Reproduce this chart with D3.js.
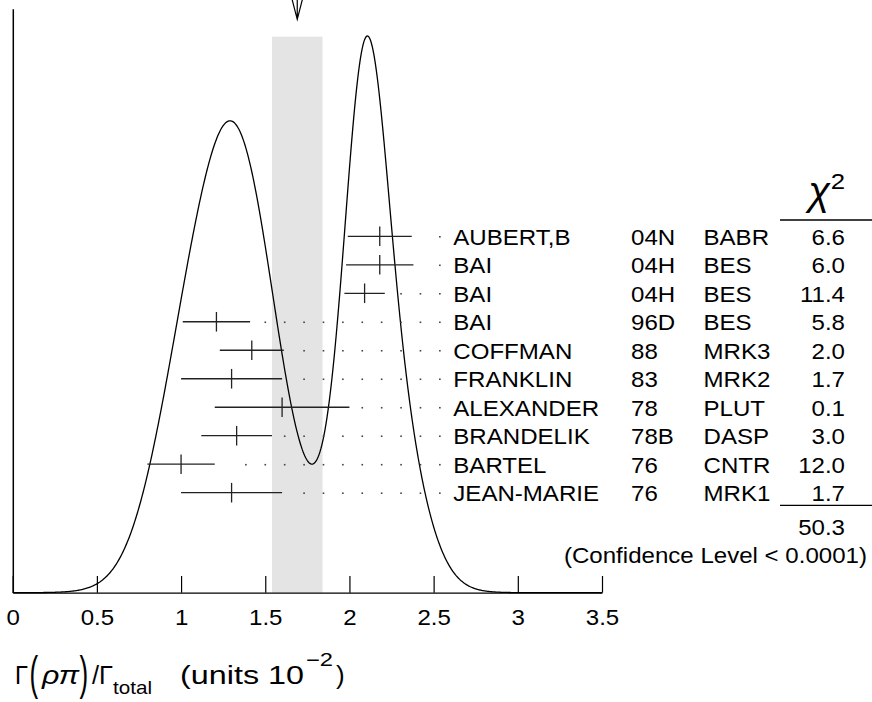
<!DOCTYPE html>
<html>
<head>
<meta charset="utf-8">
<title>J/psi to rho pi ideogram</title>
<script src="https://d3js.org/d3.v7.min.js"></script>
<style>
  body { margin: 0; background: #fff; }
  text { font-family: "Liberation Sans", Arial, sans-serif; fill: #000; }
</style>
</head>
<body>
<script>
// measurements, top to bottom
let authors = ["AUBERT,B", "BAI", "BAI", "BAI", "COFFMAN", "FRANKLIN", "ALEXANDER", "BRANDELIK", "BARTEL", "JEAN-MARIE"];
let years = ["04N", "04H", "04H", "96D", "88", "83", "78", "78B", "76", "76"];
let experiments = ["BABR", "BES", "BES", "BES", "MRK3", "MRK2", "PLUT", "DASP", "CNTR", "MRK1"];
let values = [2.18, 2.18, 2.09, 1.21, 1.42, 1.30, 1.60, 1.33, 1.00, 1.30];
let errors = [0.19, 0.20, 0.12, 0.20, 0.19, 0.30, 0.40, 0.21, 0.20, 0.30];
let chi2 = ["6.6", "6.0", "11.4", "5.8", "2.0", "1.7", "0.1", "3.0", "12.0", "1.7"];
let chi2Total = "50.3";
let confidence = "(Confidence Level < 0.0001)";
let average = 1.69;
let averageError = 0.15;
let xTicks = [0, 0.5, 1, 1.5, 2, 2.5, 3, 3.5];

let W = 872, H = 702;
let axisY = 592.7;
let SX = 1.12;          // text in the original is a bit wider than Arial
let fs = 21.5;

let svg = d3.select("body").append("svg").attr("width", W).attr("height", H);

let x = d3.scaleLinear().domain([0, 3.5]).range([12.7, 602]);
let row = d3.scalePoint().domain(d3.range(values.length)).range([236.3, 492.7]);

// ideogram: one gaussian per measurement, area ~ 1/error
let grid = d3.range(0, 3.5001, 0.005);
let ideo = grid.map(function(g) {
    let s = 0;
    values.forEach(function(v, i) {
        let z = (g - v) / errors[i];
        s += Math.exp(-0.5 * z * z) / (errors[i] * errors[i]);
    });
    return [g, s];
});
let y = d3.scaleLinear().domain([0, d3.max(ideo, d => d[1])]).range([axisY, 36]);

// average band
svg.append("rect")
    .attr("x", x(average - averageError))
    .attr("width", x(average + averageError) - x(average - averageError))
    .attr("y", 36.7)
    .attr("height", axisY - 36.7)
    .attr("fill", "#e4e4e4");

// arrow at the average
let ax = x(average);
svg.append("path")
    .attr("d", "M" + ax + ",-5L" + ax + ",19.3M" + (ax - 6.3) + ",-5L" + ax + ",19.3L" + (ax + 6.3) + ",-5")
    .attr("fill", "none").attr("stroke", "#000").attr("stroke-width", 1.2);

// axes
svg.append("line")
    .attr("x1", x(0) + 0.6).attr("x2", x(0) + 0.6)
    .attr("y1", 9.3).attr("y2", axisY)
    .attr("stroke", "#000").attr("stroke-width", 1.5);

let xAxis = svg.append("g")
    .attr("transform", "translate(0," + axisY + ")")
    .call(d3.axisBottom(x).tickValues(xTicks).tickSizeInner(-16.7).tickSizeOuter(0).tickPadding(17)
        .tickFormat(d3.format("~g")));
xAxis.select(".domain").attr("stroke-width", 1.3);
xAxis.selectAll(".tick line").attr("stroke-width", 1.2);
xAxis.selectAll(".tick text")
    .attr("font-size", fs)
    .attr("font-family", "'Liberation Sans', Arial, sans-serif")
    .attr("transform", "scale(" + SX + ",1)");

// ideogram curve
svg.append("path")
    .datum(ideo)
    .attr("d", d3.line().x(d => x(d[0])).y(d => y(d[1])))
    .attr("fill", "none")
    .attr("stroke", "#000")
    .attr("stroke-width", 1.3);

// dotted leaders to the labels
let dotEnd = 2.537, dotStep = 0.1152, dotGap = 0.073;
values.forEach(function(v, i) {
    let hi = v + errors[i];
    let dots = [];
    for (let d = dotEnd; d > hi + dotGap; d -= dotStep) dots.push(d);
    svg.selectAll(".dot" + i)
        .data(dots)
        .enter()
        .append("rect")
        .attr("x", d => x(d) - 0.8)
        .attr("y", row(i) - 0.3)
        .attr("width", 1.6)
        .attr("height", 1.6)
        .attr("fill", "#444");
});

// error bars
let bars = svg.selectAll(".bar")
    .data(values)
    .enter()
    .append("g")
    .attr("class", "bar");
bars.append("line")
    .attr("x1", (d, i) => x(d - errors[i]))
    .attr("x2", (d, i) => x(d + errors[i]))
    .attr("y1", (d, i) => row(i))
    .attr("y2", (d, i) => row(i))
    .attr("stroke", "#222").attr("stroke-width", 1.3);
bars.append("line")
    .attr("x1", d => x(d))
    .attr("x2", d => x(d))
    .attr("y1", (d, i) => row(i) - 9.8)
    .attr("y2", (d, i) => row(i) + 9.8)
    .attr("stroke", "#222").attr("stroke-width", 1.3);

// label columns
function column(arr, xpos, anchor) {
    svg.selectAll(null)
        .data(arr)
        .enter()
        .append("text")
        .attr("transform", (d, i) => "translate(" + xpos + "," + (row(i) + 8.7) + ") scale(" + SX + ",1)")
        .attr("text-anchor", anchor)
        .attr("font-size", fs)
        .text(d => d);
}
column(authors, 453.3, "start");
column(years, 631, "start");
column(experiments, 703.5, "start");
column(chi2, 845, "end");

// chi2 header
svg.append("text")
    .attr("x", 830).attr("y", 205)
    .attr("text-anchor", "end")
    .attr("font-family", "'Liberation Serif', 'DejaVu Serif', serif")
    .attr("font-style", "italic")
    .attr("font-size", 40)
    .text("χ");
svg.append("text")
    .attr("transform", "translate(845,189) scale(" + SX + ",1)")
    .attr("text-anchor", "end")
    .attr("font-size", 23)
    .text("2");
svg.append("line")
    .attr("x1", 780).attr("x2", 872).attr("y1", 220).attr("y2", 220)
    .attr("stroke", "#000").attr("stroke-width", 1.3);

// total
svg.append("line")
    .attr("x1", 780).attr("x2", 872).attr("y1", 505.3).attr("y2", 505.3)
    .attr("stroke", "#000").attr("stroke-width", 1.3);
svg.append("text")
    .attr("transform", "translate(845,535) scale(" + SX + ",1)")
    .attr("text-anchor", "end")
    .attr("font-size", fs)
    .text(chi2Total);
svg.append("text")
    .attr("transform", "translate(867,563) scale(" + SX + ",1)")
    .attr("text-anchor", "end")
    .attr("font-size", fs)
    .text(confidence);

// x axis title, one piece at a time
let title = svg.append("g");
let tb = 684;
function piece(str, px, o) {
    let t = title.append("text")
        .attr("x", px)
        .attr("y", tb + (o.dy || 0))
        .attr("font-size", o.size || 26)
        .attr("font-family", o.family || "'DejaVu Sans', sans-serif")
        .attr("font-style", o.style || "normal")
        .text(str);
    if (o.len) t.attr("textLength", o.len).attr("lengthAdjust", "spacingAndGlyphs");
    if (o.sy) t.attr("transform", "translate(0,678) scale(1," + o.sy + ") translate(0,-678)");
    return t;
}
piece("Γ", 15, {len: 13});
piece("(", 29.5, {sy: 1.8, family: "'Liberation Sans', sans-serif"});
piece("ρπ", 42, {family: "'DejaVu Serif', serif", style: "italic", len: 37});
piece(")", 79.5, {sy: 1.8, family: "'Liberation Sans', sans-serif"});
piece("/Γ", 92, {len: 21});
piece("total", 113, {size: 19, dy: 10, len: 39});
piece("(units 10", 180, {len: 124});
piece("−2", 306, {size: 18, dy: -18, len: 27});
piece(")", 336, {});
</script>
</body>
</html>
